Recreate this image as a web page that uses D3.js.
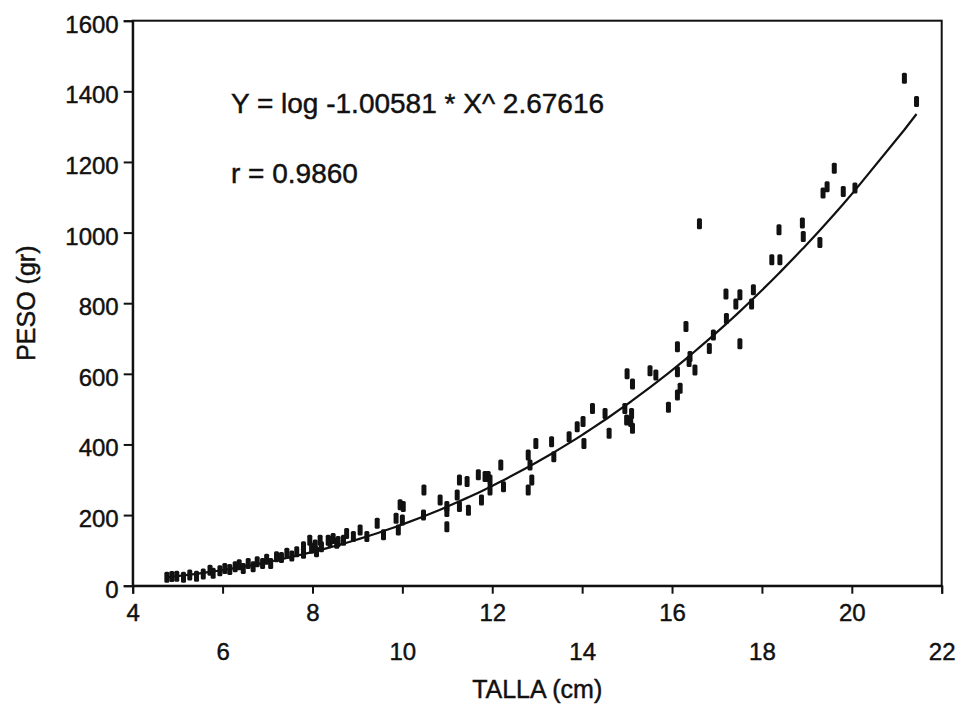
<!DOCTYPE html>
<html>
<head>
<meta charset="utf-8">
<script src="https://cdn.jsdelivr.net/npm/d3@7"></script>
<style>
  html, body { margin: 0; padding: 0; background: #fff; }
  svg { display: block; }
  text { font-family: Arial, "Liberation Sans", Helvetica, sans-serif; fill: #111; stroke: #111; stroke-width: 0.45px; }
</style>
</head>
<body>
<svg id="chart" width="960" height="710"></svg>
<script>
// Talla (cm) y peso (gr) de cada ejemplar
const talla = [4.76, 4.87, 4.98, 5.13, 5.27, 5.42, 5.57, 5.72, 5.79, 5.94,
  6.05, 6.16, 6.28, 6.37, 6.46, 6.57, 6.68, 6.77, 6.89, 6.98,
  7.07, 7.20, 7.31, 7.43, 7.54, 7.65, 7.80, 7.80, 7.94, 7.98,
  8.06, 8.09, 8.17, 8.20, 8.35, 8.39, 8.46, 8.54, 8.57, 8.69,
  8.76, 8.91, 9.06, 9.21, 9.44, 9.58, 9.86, 9.91, 9.95, 10.00,
  10.02, 10.47, 10.48, 10.84, 10.99, 10.99, 10.99, 11.22, 11.27, 11.27,
  11.44, 11.47, 11.69, 11.76, 11.84, 11.91, 11.95, 11.95, 12.19, 12.25,
  12.80, 12.80, 12.84, 12.88, 12.97, 13.32, 13.37, 13.71, 13.89, 14.02,
  14.04, 14.23, 14.51, 14.60, 14.95, 14.99, 15.00, 15.08, 15.10, 15.12,
  15.12, 15.51, 15.64, 15.92, 16.12, 16.12, 16.12, 16.18, 16.31, 16.38,
  16.40, 16.51, 16.61, 16.83, 16.92, 17.20, 17.21, 17.42, 17.51, 17.51,
  17.77, 17.81, 18.22, 18.38, 18.40, 18.90, 18.92, 19.29, 19.36, 19.45,
  19.61, 19.81, 20.07, 21.17, 21.44];
const peso = [24, 26, 27, 24, 30, 27, 33, 44, 35, 42,
  49, 46, 54, 59, 49, 63, 54, 68, 63, 75,
  63, 82, 80, 92, 84, 96, 92, 110, 129, 106,
  115, 96, 129, 110, 129, 125, 134, 120, 125, 129,
  148, 139, 158, 139, 177, 144, 191, 158, 229, 186,
  224, 200, 271, 243, 210, 167, 224, 257, 299, 224,
  295, 214, 314, 243, 309, 309, 271, 299, 342, 280,
  370, 271, 342, 299, 403, 408, 365, 422, 450, 465,
  403, 502, 488, 432, 502, 469, 600, 465, 488, 571,
  446, 609, 597, 505, 606, 677, 540, 559, 734, 635,
  649, 611, 1025, 672, 710, 826, 757, 798, 824, 685,
  798, 838, 923, 1008, 923, 1027, 989, 972, 1112, 1130,
  1182, 1116, 1126, 1437, 1371];

// Ajuste potencial: Y = e^(a) * X^b
const coefA = -1.00581;
const coefB = 2.67616;
const rValue = "0.9860";

const xTicks = [4, 6, 8, 10, 12, 14, 16, 18, 20, 22];
const yTicks = [0, 200, 400, 600, 800, 1000, 1200, 1400, 1600];

const svg = d3.select("#chart");
const plotLeft = 132.7, plotRight = 941.7, plotTop = 20.7, plotBottom = 585.7;

const x = d3.scaleLinear().domain([4, 22]).range([plotLeft, plotRight]);
const y = d3.scaleLinear().domain([0, 1600]).range([plotBottom, plotTop]);

// Marco del gráfico
svg.append("rect")
  .attr("x", plotLeft).attr("y", plotTop)
  .attr("width", plotRight - plotLeft).attr("height", plotBottom - plotTop)
  .attr("fill", "none").attr("stroke", "#111").attr("stroke-width", 2);

// Eje Y
const yAxis = svg.append("g")
  .attr("transform", `translate(${plotLeft},0)`)
  .call(d3.axisLeft(y).tickValues(yTicks).tickSize(9).tickPadding(5).tickFormat(d3.format("d")));
yAxis.select(".domain").attr("stroke", "#111").attr("stroke-width", 2);
yAxis.selectAll(".tick line").attr("stroke", "#111").attr("stroke-width", 2);
yAxis.selectAll(".tick text")
  .attr("font-size", 24).attr("fill", "#111")
  .attr("dy", "0.48em")
  .style("font-family", "Arial, 'Liberation Sans', sans-serif");

// Eje X con etiquetas en dos filas alternas
const xAxis = svg.append("g")
  .attr("transform", `translate(0,${plotBottom})`)
  .call(d3.axisBottom(x).tickValues(xTicks).tickSize(8).tickFormat(d3.format("d")));
xAxis.select(".domain").attr("stroke", "#111").attr("stroke-width", 2);
xAxis.selectAll(".tick line").attr("stroke", "#111").attr("stroke-width", 2);
xAxis.selectAll(".tick text")
  .attr("font-size", 24).attr("fill", "#111")
  .attr("y", d => (d % 4 === 0) ? 18 : 57)
  .attr("dy", "0.71em")
  .style("font-family", "Arial, 'Liberation Sans', sans-serif");

// Títulos de los ejes
svg.append("text")
  .attr("x", (plotLeft + plotRight) / 2).attr("y", 698)
  .attr("text-anchor", "middle").attr("font-size", 25)
  .text("TALLA (cm)");
svg.append("text")
  .attr("transform", `translate(35,${(plotTop + plotBottom) / 2}) rotate(-90)`)
  .attr("text-anchor", "middle").attr("font-size", 25)
  .text("PESO (gr)");

// Curva ajustada evaluada en cada talla observada
const tallaOrd = Array.from(new Set(talla)).sort((a, b) => a - b);
const curva = tallaOrd.map(t => [t, Math.exp(coefA) * Math.pow(t, coefB)]);
svg.append("path")
  .datum(curva)
  .attr("fill", "none").attr("stroke", "#111").attr("stroke-width", 2.2)
  .attr("d", d3.line().x(d => x(d[0])).y(d => y(d[1])));

// Ejemplares
svg.append("g").selectAll("rect")
  .data(talla.map((t, i) => [t, peso[i]]))
  .join("rect")
  .attr("x", d => x(d[0]) - 2.5)
  .attr("y", d => y(d[1]) - 5.5)
  .attr("width", 5).attr("height", 11)
  .attr("rx", 1.5)
  .attr("fill", "#111");

// Ecuación y coeficiente de correlación
svg.append("text")
  .attr("x", 231).attr("y", 113).attr("font-size", 28)
  .text(`Y = log -${Math.abs(coefA).toFixed(5)} * X^ ${coefB.toFixed(5)}`);
svg.append("text")
  .attr("x", 231).attr("y", 183).attr("font-size", 28)
  .text(`r = ${rValue}`);
</script>
</body>
</html>
